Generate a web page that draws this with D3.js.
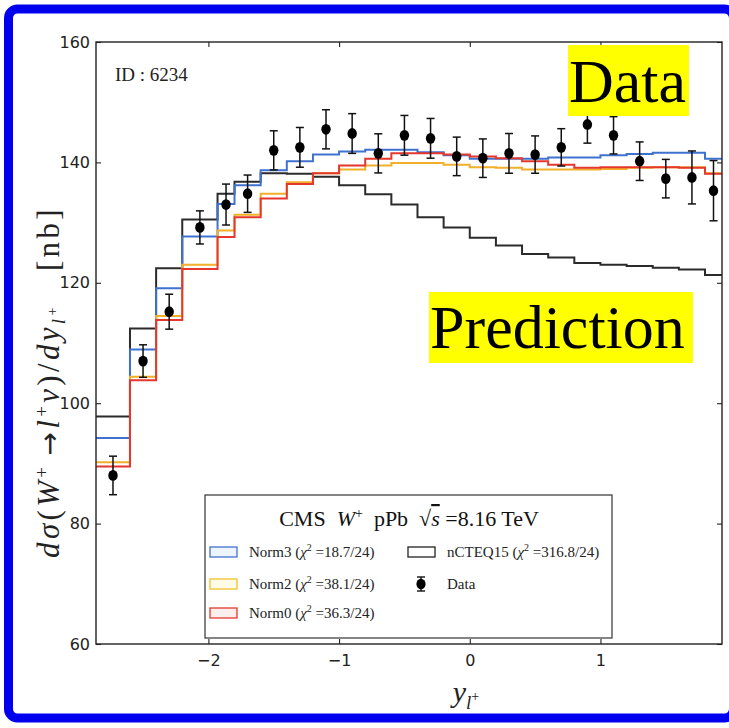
<!DOCTYPE html>
<html>
<head>
<meta charset="utf-8">
<script src="https://cdn.jsdelivr.net/npm/d3@7"></script>
<style>
  html, body { margin: 0; padding: 0; background: #ffffff; }
  svg { display: block; }
  text { white-space: pre; }
</style>
</head>
<body>
<script>
// ---- data ----
const binEdges = [-2.86, -2.6, -2.4, -2.2, -1.93, -1.8, -1.6, -1.4, -1.2, -1.0, -0.8, -0.6,
                  -0.4, -0.2, 0.0, 0.2, 0.4, 0.6, 0.8, 1.0, 1.2, 1.4, 1.6, 1.8, 1.93];
const dataValues = [88.0, 107.0, 115.2, 129.2, 133.0, 134.8, 142.0, 142.5, 145.5, 144.8, 141.5, 144.5,
                    144.0, 141.0, 140.7, 141.5, 141.3, 142.5, 146.3, 144.5, 140.2, 137.3, 137.5, 135.3];
const dataErrors = [3.2, 2.7, 2.9, 2.75, 3.4, 3.1, 3.25, 3.3, 3.25, 3.3, 3.25, 3.3,
                    3.3, 3.2, 3.2, 3.3, 3.1, 3.1, 3.1, 3.1, 3.2, 3.2, 4.4, 5.0];
const norm3 = [94.2, 108.9, 119.1, 127.7, 133.1, 136.2, 138.7, 140.2, 141.3, 141.8, 142.1, 142.1,
               141.7, 141.2, 140.6, 140.6, 140.6, 140.8, 140.8, 141.2, 141.4, 141.6, 141.6, 140.6];
const norm2 = [90.2, 104.4, 114.5, 123.0, 128.7, 131.3, 134.8, 136.7, 138.2, 138.8, 139.5, 139.9,
               139.9, 139.6, 139.2, 139.1, 138.8, 138.8, 138.8, 138.9, 139.1, 139.2, 139.2, 138.2];
const norm0 = [89.5, 103.8, 113.8, 122.3, 127.6, 130.9, 134.0, 136.4, 138.2, 139.5, 140.6, 141.5,
               141.5, 141.3, 141.0, 140.7, 140.2, 139.6, 139.1, 139.2, 139.2, 139.2, 139.1, 138.1];
const ncteq15 = [97.8, 112.4, 122.4, 130.5, 134.8, 136.8, 138.2, 138.1, 137.6, 136.2, 134.7, 133.0,
                 130.9, 129.2, 127.5, 126.2, 124.8, 124.2, 123.3, 123.0, 122.8, 122.5, 122.2, 121.3];
const xTickValues = [-2, -1, 0, 1];
const yTickValues = [60, 80, 100, 120, 140, 160];
const yDomain = [60, 160];
const seriesNames = ["Norm3", "Norm2", "Norm0", "nCTEQ15"];
const seriesChi2 = ["18.7/24", "38.1/24", "36.3/24", "316.8/24"];
const idText = "ID : 6234";

// ---- layout ----
const W = 729, H = 728;
const L = 96, R = 722, T = 42, B = 644;
const serif = "'Liberation Serif', 'DejaVu Serif', serif";
const sans = "'DejaVu Sans', sans-serif";

const svg = d3.select("body").append("svg").attr("width", W).attr("height", H);
svg.append("rect").attr("width", W).attr("height", H).attr("fill", "#fff");

const x = d3.scaleLinear().domain([binEdges[0], binEdges[binEdges.length - 1]]).range([L, R]);
const y = d3.scaleLinear().domain(yDomain).range([B, T]);

svg.append("defs").append("clipPath").attr("id", "plotclip")
  .append("rect").attr("x", L).attr("y", T).attr("width", R - L).attr("height", B - T);

// axes (inward ticks on all sides)
function styleAxis(g) {
  g.select(".domain").remove();
  g.selectAll(".tick line").attr("stroke", "#222").attr("stroke-width", 1.1);
  g.selectAll(".tick text").attr("font-family", sans).attr("font-size", 16).attr("fill", "#222");
}
svg.append("g").attr("transform", `translate(0,${B})`)
  .call(d3.axisBottom(x).tickValues(xTickValues).tickSize(-5).tickPadding(11).tickFormat(d3.format("d")))
  .call(styleAxis);
svg.append("g").attr("transform", `translate(0,${T})`)
  .call(d3.axisTop(x).tickValues(xTickValues).tickSize(-5).tickFormat(""))
  .call(styleAxis);
svg.append("g").attr("transform", `translate(${L},0)`)
  .call(d3.axisLeft(y).tickValues(yTickValues).tickSize(-5).tickPadding(6))
  .call(styleAxis);
svg.append("g").attr("transform", `translate(${R},0)`)
  .call(d3.axisRight(y).tickValues(yTickValues).tickSize(-5).tickFormat(""))
  .call(styleAxis);

// step histograms
const plot = svg.append("g").attr("clip-path", "url(#plotclip)");
const stepGen = d3.line().x(d => x(d[0])).y(d => y(d[1])).curve(d3.curveStepAfter);
function stepPath(vals) {
  return stepGen(binEdges.map((e, i) => [e, vals[Math.min(i, vals.length - 1)]]));
}
const series = [
  {vals: ncteq15, color: "#2b2b2b"},
  {vals: norm3, color: "#3f72cf"},
  {vals: norm2, color: "#f2b02a"},
  {vals: norm0, color: "#e4372d"}
];
series.forEach(s => {
  plot.append("path").attr("d", stepPath(s.vals)).attr("fill", "none")
    .attr("stroke", s.color).attr("stroke-width", 2);
});

// data points with error bars
const pts = dataValues.map((v, i) => ({cx: (binEdges[i] + binEdges[i + 1]) / 2, v, e: dataErrors[i]}));
const pg = svg.append("g");
pts.forEach(p => {
  const px = x(p.cx);
  pg.append("line").attr("x1", px).attr("x2", px).attr("y1", y(p.v - p.e)).attr("y2", y(p.v + p.e))
    .attr("stroke", "#111").attr("stroke-width", 1.5);
  [p.v - p.e, p.v + p.e].forEach(c => {
    pg.append("line").attr("x1", px - 4).attr("x2", px + 4).attr("y1", y(c)).attr("y2", y(c))
      .attr("stroke", "#111").attr("stroke-width", 1.5);
  });
  pg.append("ellipse").attr("cx", px).attr("cy", y(p.v)).attr("rx", 4.7).attr("ry", 5.4).attr("fill", "#000");
});

// frame
svg.append("rect").attr("x", L).attr("y", T).attr("width", R - L).attr("height", B - T)
  .attr("fill", "none").attr("stroke", "#222").attr("stroke-width", 1.4);

// ID text
svg.append("text").attr("x", 115).attr("y", 81).attr("font-family", serif).attr("font-size", 19)
  .attr("fill", "#222").text(idText);

// legend
const lg = svg.append("g");
lg.append("rect").attr("x", 205).attr("y", 495).attr("width", 407).attr("height", 143)
  .attr("fill", "#fff").attr("stroke", "#333").attr("stroke-width", 1.2);
const title = lg.append("text").attr("x", 409).attr("y", 526).attr("text-anchor", "middle")
  .attr("font-family", serif).attr("font-size", 22).attr("fill", "#111");
title.append("tspan").text("CMS  ");
title.append("tspan").attr("font-style", "italic").text("W");
title.append("tspan").attr("baseline-shift", "8").attr("font-size", 14).text("+");
title.append("tspan").text("  pPb  √");
title.append("tspan").attr("font-style", "italic").attr("text-decoration", "overline").text("s");
title.append("tspan").text(" =8.16 TeV");

const swatchFill = ["#eef4fc", "#fffbe6", "#fdeeee", "#ffffff"];
const swatchStroke = ["#3f72cf", "#f2c02a", "#e4372d", "#222"];
const entryPos = [[210, 552], [210, 584], [210, 613], [408, 552]];
seriesNames.forEach((name, i) => {
  const [sx, sy] = entryPos[i];
  lg.append("rect").attr("x", sx).attr("y", sy - 5).attr("width", 27).attr("height", 10)
    .attr("fill", swatchFill[i]).attr("stroke", swatchStroke[i]).attr("stroke-width", 1.3);
  const t = lg.append("text").attr("x", sx + 39).attr("y", sy + 5).attr("font-family", serif)
    .attr("font-size", 15).attr("fill", "#222");
  t.append("tspan").text(name + " (");
  t.append("tspan").attr("font-style", "italic").text("χ");
  t.append("tspan").attr("baseline-shift", "6").attr("font-size", 10).text("2");
  t.append("tspan").text(" =" + seriesChi2[i] + ")");
});
// data legend entry
const dlx = 421, dly = 584;
lg.append("line").attr("x1", dlx).attr("x2", dlx).attr("y1", dly - 7).attr("y2", dly + 7).attr("stroke", "#111").attr("stroke-width", 1.4);
[dly - 7, dly + 7].forEach(c => lg.append("line").attr("x1", dlx - 4).attr("x2", dlx + 4).attr("y1", c).attr("y2", c).attr("stroke", "#111").attr("stroke-width", 1.4));
lg.append("ellipse").attr("cx", dlx).attr("cy", dly).attr("rx", 4.6).attr("ry", 5.3).attr("fill", "#000");
lg.append("text").attr("x", 447).attr("y", dly + 5).attr("font-family", serif).attr("font-size", 15)
  .attr("fill", "#222").text("Data");

// axis titles
const yl = svg.append("text").attr("transform", "translate(59,382) rotate(-90)").attr("text-anchor", "middle")
  .attr("font-family", serif).attr("font-size", 31).attr("fill", "#222");
yl.append("tspan").attr("font-style", "italic").text("dσ");
yl.append("tspan").text("(");
yl.append("tspan").attr("font-style", "italic").text("W");
yl.append("tspan").attr("baseline-shift", "11").attr("font-size", 19).text("+ ");
yl.append("tspan").attr("font-family", sans).attr("font-size", 28).text("→");
yl.append("tspan").attr("font-style", "italic").text("l");
yl.append("tspan").attr("baseline-shift", "11").attr("font-size", 19).text("+");
yl.append("tspan").attr("font-style", "italic").text("ν");
yl.append("tspan").text(")/");
yl.append("tspan").attr("font-style", "italic").text("dy");
yl.append("tspan").attr("baseline-shift", "-6").attr("font-size", 19).attr("font-style", "italic").text("l");
yl.append("tspan").attr("baseline-shift", "2").attr("font-size", 14).text("+");
yl.append("tspan").text("   [nb]");
// stretch letter spacing so the label spans the same length as the reference
{
  const target = 352;
  const len = yl.node().getComputedTextLength();
  const n = yl.text().length;
  if (len < target) yl.attr("letter-spacing", ((target - len) / n).toFixed(2));
}

const xl = svg.append("text").attr("x", 466).attr("y", 702).attr("text-anchor", "middle")
  .attr("font-family", serif).attr("font-size", 30).attr("fill", "#222");
xl.append("tspan").attr("font-style", "italic").text("y");
xl.append("tspan").attr("baseline-shift", "-7").attr("font-size", 19).attr("font-style", "italic").text("l");
xl.append("tspan").attr("baseline-shift", "1").attr("font-size", 14).text("+");

// yellow annotation labels
svg.append("rect").attr("x", 568).attr("y", 45).attr("width", 121).attr("height", 71).attr("fill", "#ffff00");
svg.append("text").attr("x", 569).attr("y", 102).attr("font-family", serif).attr("font-size", 62)
  .attr("fill", "#000").text("Data");
svg.append("rect").attr("x", 429).attr("y", 292).attr("width", 264).attr("height", 71).attr("fill", "#ffff00");
svg.append("text").attr("x", 430).attr("y", 348).attr("font-family", serif).attr("font-size", 62)
  .attr("fill", "#000").text("Prediction");

// outer blue frame
svg.append("rect").attr("x", 8.5).attr("y", 9).attr("width", 725).attr("height", 709).attr("rx", 9)
  .attr("fill", "none").attr("stroke", "#0000ee").attr("stroke-width", 9);
</script>
</body>
</html>
